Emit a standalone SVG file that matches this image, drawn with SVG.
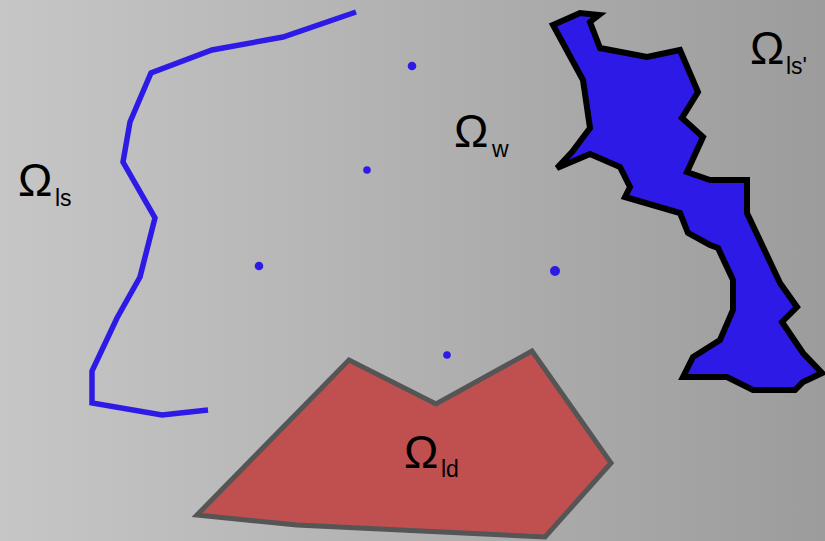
<svg xmlns="http://www.w3.org/2000/svg" width="825" height="541" viewBox="0 0 825 541">
<defs>
<linearGradient id="bg" x1="0" y1="0" x2="1" y2="0">
<stop offset="0" stop-color="#c6c6c6"/>
<stop offset="1" stop-color="#9c9c9c"/>
</linearGradient>
<style>
.lbl{font-family:"Liberation Sans",Arial,sans-serif;fill:#000}
.big{font-size:46px}
.sub{font-size:23px}
.dot{fill:#2d1ae6}
</style>
</defs>
<rect x="0" y="0" width="825" height="541" fill="url(#bg)"/>
<g id="boundary-ls">
<polyline points="356,12 283,37 212,50 151,73 130,122 123,162 155,218 140,277 117,318 92,371 92,403 162,415 208,410" fill="none" stroke="#2d1ae6" stroke-width="5.5" stroke-linejoin="miter"/>
</g>
<g id="region-ls2">
<polygon points="553,25 580,13 599,15 590,22 600,48 647,57 680,50 698,92 682,118 703,137 687,172 710,180 747,180 747,213 780,283 797,307 782,322 803,353 822,373 803,382 795,390 753,390 727,377 683,377 693,357 720,340 733,310 733,280 718,248 710,245 688,233 680,213 625,197 630,187 620,167 590,154 557,168 572,152 590,128 583,80" fill="#2d1ae6" stroke="#000" stroke-width="6" stroke-linejoin="miter"/>
</g>
<g id="region-ld">
<polygon points="197,515 349,360 436,404 532,351 611,463 545,537 297,525" fill="#c05050" stroke="#555" stroke-width="5"/>
</g>
<g id="points">
<circle class="dot" cx="412" cy="66" r="4.3"/>
<circle class="dot" cx="367" cy="170" r="3.8"/>
<circle class="dot" cx="259" cy="266" r="4.3"/>
<circle class="dot" cx="555" cy="271" r="5"/>
<circle class="dot" cx="447" cy="355" r="3.8"/>
</g>
<g id="labels">
<text class="lbl big" x="454" y="147">Ω</text><text class="lbl sub" x="492" y="157">w</text>
<text class="lbl big" x="18" y="196">Ω</text><text class="lbl sub" x="55" y="206">ls</text>
<text class="lbl big" x="750" y="64">Ω</text><text class="lbl sub" x="786" y="74">ls'</text>
<text class="lbl big" x="404" y="468">Ω</text><text class="lbl sub" x="441" y="477">ld</text>
</g>
</svg>
